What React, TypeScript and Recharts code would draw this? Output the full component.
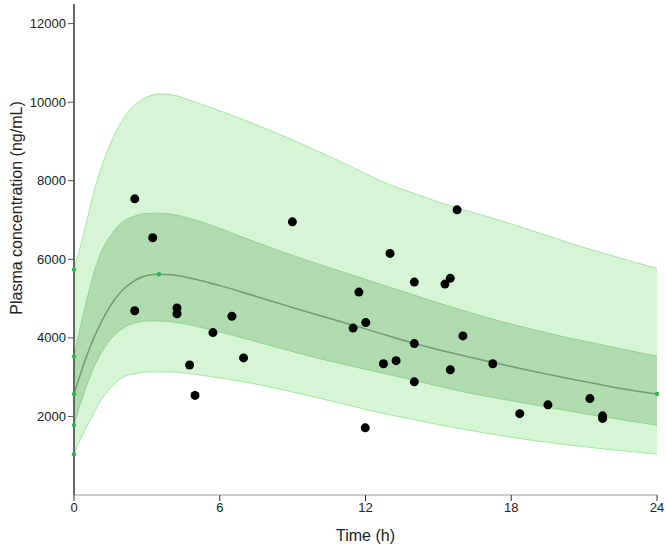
import {
  Area,
  ComposedChart,
  Line,
  Scatter,
  XAxis,
  YAxis,
} from 'recharts'

// simulated profile (h)
const TIME = [0, 0.25, 0.5, 0.75, 1, 1.5, 2, 2.5, 3, 3.5, 4, 5, 6, 7, 8, 9, 10, 11, 12, 13, 14, 15, 16, 17, 18, 19, 20, 21, 22, 23, 24]
const MEDIAN = [2570, 3050, 3500, 3900, 4250, 4820, 5220, 5460, 5590, 5620, 5605, 5490, 5330, 5150, 4960, 4770, 4590, 4410, 4230, 4040, 3860, 3700, 3550, 3410, 3270, 3140, 3010, 2890, 2770, 2660, 2570]
const INNER_HI = [3530, 4250, 4900, 5500, 6000, 6600, 6950, 7100, 7170, 7175, 7150, 7000, 6790, 6550, 6320, 6100, 5890, 5690, 5490, 5290, 5090, 4890, 4700, 4520, 4350, 4200, 4050, 3920, 3790, 3660, 3530]
const INNER_LO = [1780, 2300, 2750, 3150, 3480, 3960, 4240, 4380, 4430, 4430, 4410, 4300, 4150, 3990, 3820, 3650, 3490, 3340, 3200, 3060, 2920, 2770, 2630, 2510, 2400, 2290, 2180, 2070, 1970, 1870, 1780]
const OUTER_HI = [5740, 6300, 6900, 7550, 8100, 8950, 9550, 9930, 10130, 10210, 10190, 10000, 9780, 9550, 9300, 9040, 8760, 8480, 8180, 7900, 7680, 7460, 7270, 7090, 6900, 6700, 6500, 6300, 6120, 5940, 5770]
const OUTER_LO = [1040, 1400, 1720, 2000, 2300, 2720, 2990, 3090, 3130, 3135, 3130, 3070, 2980, 2880, 2760, 2620, 2480, 2330, 2180, 2040, 1920, 1790, 1680, 1570, 1470, 1380, 1300, 1230, 1160, 1100, 1040]

// observed concentrations
const OBS_T = [15.77, 8.99, 13.01, 14.01, 15.49, 15.27, 11.73, 6.5, 12.01, 11.49, 16.01, 14.01, 6.98, 12.74, 13.26, 15.49, 17.24, 14.01, 21.24, 19.51, 18.35, 21.76, 21.76, 11.99, 2.5, 3.24, 2.5, 4.24, 4.24, 5.72, 4.76, 4.98]
const OBS_V = [7260, 6955, 6150, 5420, 5515, 5370, 5165, 4550, 4390, 4250, 4050, 3855, 3490, 3340, 3420, 3190, 3340, 2880, 2455, 2295, 2070, 2015, 1950, 1710, 7540, 6550, 4690, 4760, 4615, 4135, 3310, 2535]

const X_TICKS = [0, 6, 12, 18, 24]
const Y_TICKS = [2000, 4000, 6000, 8000, 10000, 12000]

const OUTER_FILL = '#d5f5d5'
const OUTER_EDGE = '#a9e6a9'
const INNER_FILL = '#afdbaf'
const INNER_EDGE = '#93d493'
const MEDIAN_LINE = '#6e9e74'
const MARK = '#2fb84a'

const rows = TIME.map((t, i) => ({
  t,
  median: MEDIAN[i],
  inner: [INNER_LO[i], INNER_HI[i]],
  outer: [OUTER_LO[i], OUTER_HI[i]],
}))

const observed = OBS_T.map((t, i) => ({ t, v: OBS_V[i] }))

// small green markers at start, at the median peak and at the end
const peakIdx = MEDIAN.indexOf(Math.max(...MEDIAN))
const markers = [
  { t: TIME[0], v: OUTER_HI[0] },
  { t: TIME[0], v: INNER_HI[0] },
  { t: TIME[0], v: MEDIAN[0] },
  { t: TIME[0], v: INNER_LO[0] },
  { t: TIME[0], v: OUTER_LO[0] },
  { t: TIME[peakIdx], v: MEDIAN[peakIdx] },
  { t: TIME[TIME.length - 1], v: MEDIAN[MEDIAN.length - 1] },
]

const FONT = '"Liberation Sans", Arial, sans-serif'

function YTitle() {
  return (
    <text
      x={16}
      y={208}
      transform="rotate(-90, 16, 208)"
      textAnchor="middle"
      dominantBaseline="central"
      fontSize={16}
      fontFamily={FONT}
      fill="#222"
    >
      Plasma concentration (ng/mL)
    </text>
  )
}

export default function App() {
  return (
    <div style={{ width: 666, height: 547, background: '#fff' }}>
      <style>{'body{margin:0}'}</style>
      <ComposedChart
        width={666}
        height={547}
        data={rows}
        margin={{ top: 4, right: 9, bottom: 0, left: 0 }}
        style={{ fontFamily: FONT }}
      >
        <XAxis
          dataKey="t"
          type="number"
          domain={[0, 24]}
          ticks={X_TICKS}
          height={52}
          axisLine={{ stroke: '#bdbdbd', strokeWidth: 1.5 }}
          tickLine={{ stroke: '#333' }}
          tickSize={6}
          tickMargin={2}
          tick={{ fill: '#222', fontSize: 13 }}
          label={{
            value: 'Time (h)',
            position: 'insideBottom',
            offset: 6,
            fontSize: 16,
            fill: '#222',
          }}
        />
        <YAxis
          type="number"
          domain={[0, 12500]}
          ticks={Y_TICKS}
          width={74}
          axisLine={{ stroke: '#666', strokeWidth: 2 }}
          tickLine={{ stroke: '#555' }}
          tickSize={6}
          tickMargin={2}
          tick={{ fill: '#222', fontSize: 13 }}
          label={<YTitle />}
        />
        <Area
          type="monotone"
          dataKey="outer"
          fill={OUTER_FILL}
          fillOpacity={1}
          stroke={OUTER_EDGE}
          strokeWidth={1}
          isAnimationActive={false}
          activeDot={false}
        />
        <Area
          type="monotone"
          dataKey="inner"
          fill={INNER_FILL}
          fillOpacity={1}
          stroke={INNER_EDGE}
          strokeWidth={1}
          isAnimationActive={false}
          activeDot={false}
        />
        <Line
          type="monotone"
          dataKey="median"
          stroke={MEDIAN_LINE}
          strokeWidth={1.5}
          dot={false}
          activeDot={false}
          isAnimationActive={false}
        />
        <Scatter
          data={markers}
          dataKey="v"
          isAnimationActive={false}
          shape={(p: any) => <circle cx={p.cx} cy={p.cy} r={2.2} fill={MARK} />}
        />
        <Scatter
          data={observed}
          dataKey="v"
          fill="#000"
          isAnimationActive={false}
          shape={(p: any) => <circle cx={p.cx} cy={p.cy} r={4.5} fill="#000" />}
        />
      </ComposedChart>
    </div>
  )
}
